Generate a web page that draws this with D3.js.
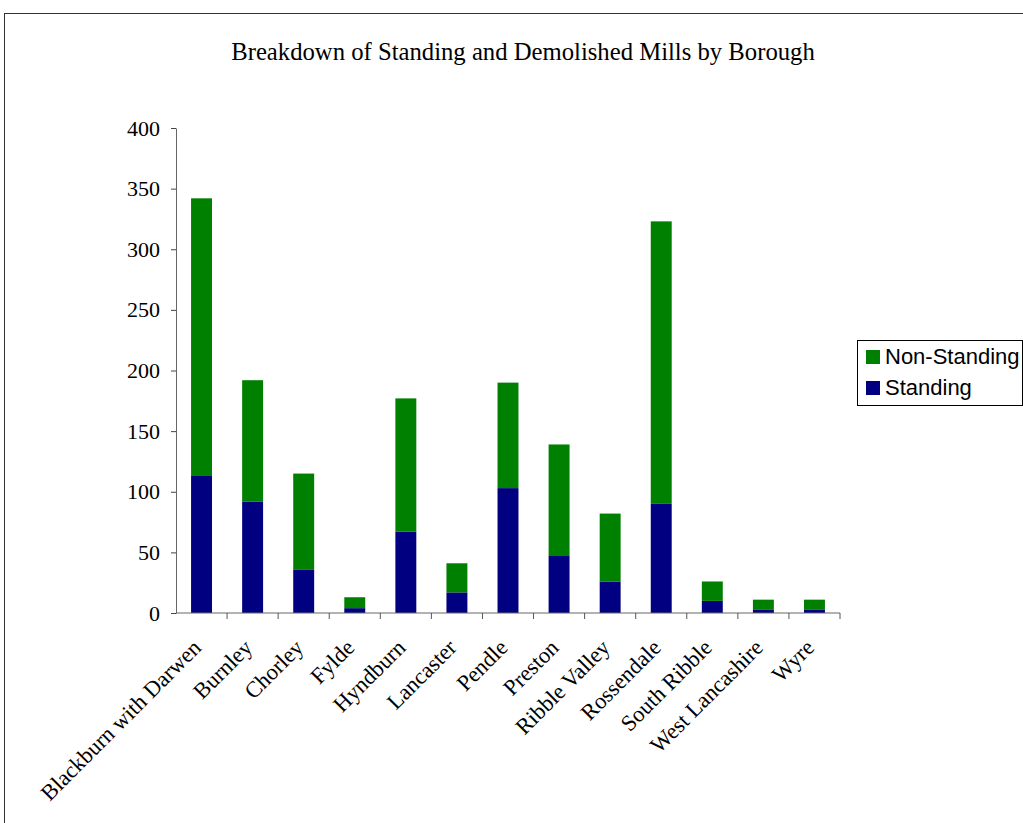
<!DOCTYPE html>
<html>
<head>
<meta charset="utf-8">
<script src="https://cdn.jsdelivr.net/npm/d3@7"></script>
<style>
  html, body { margin: 0; padding: 0; background: #fff; }
  svg { display: block; }
</style>
</head>
<body>
<svg id="chart" width="1023" height="823"></svg>
<script>
// Mill counts per Lancashire borough
const boroughs = ["Blackburn with Darwen", "Burnley", "Chorley", "Fylde", "Hyndburn", "Lancaster",
  "Pendle", "Preston", "Ribble Valley", "Rossendale", "South Ribble", "West Lancashire", "Wyre"];
const standing    = [113, 92, 36, 4, 67, 17, 103, 47, 26, 90, 10, 3, 3];
const nonStanding = [229, 100, 79, 9, 110, 24, 87, 92, 56, 233, 16, 8, 8];
const yTicks = [0, 50, 100, 150, 200, 250, 300, 350, 400];
const seriesNames = ["Standing", "Non-Standing"];
const seriesColors = ["#000080", "#008000"];

const svg = d3.select("#chart");
const serif = "'Liberation Serif', 'Times New Roman', serif";
const sans = "'Liberation Sans', Arial, sans-serif";

// Outer chart frame (runs off the right and bottom edges)
svg.append("rect")
  .attr("x", 4.5).attr("y", 13.5)
  .attr("width", 1030).attr("height", 830)
  .attr("fill", "none").attr("stroke", "#333").attr("stroke-width", 1);

svg.append("text")
  .attr("x", 523).attr("y", 60)
  .attr("text-anchor", "middle")
  .attr("font-family", serif).attr("font-size", 24.7)
  .text("Breakdown of Standing and Demolished Mills by Borough");

const plot = { left: 176, right: 840, top: 128, bottom: 613 };

const x = d3.scaleBand().domain(boroughs).range([plot.left, plot.right]).paddingInner(0.59).paddingOuter(0.295);
const xEdge = d3.scaleBand().domain(boroughs).range([plot.left, plot.right]).padding(0);
const y = d3.scaleLinear().domain([0, 400]).range([plot.bottom, plot.top]);

const rows = boroughs.map((b, i) => ({ borough: b, Standing: standing[i], "Non-Standing": nonStanding[i] }));
const stacked = d3.stack().keys(seriesNames)(rows);

svg.append("g").selectAll("g")
  .data(stacked).join("g")
  .attr("fill", (d, i) => seriesColors[i])
  .selectAll("rect")
  .data(d => d).join("rect")
  .attr("x", d => x(d.data.borough))
  .attr("width", x.bandwidth())
  .attr("y", d => y(d[1]))
  .attr("height", d => y(d[0]) - y(d[1]));

// Y axis
const yAxis = svg.append("g")
  .attr("transform", `translate(${plot.left},0)`)
  .call(d3.axisLeft(y).tickValues(yTicks).tickSize(5).tickPadding(11).tickSizeOuter(0));
yAxis.select(".domain").attr("stroke", "#666");
yAxis.selectAll(".tick line").attr("stroke", "#444");
yAxis.selectAll("text").attr("font-family", serif).attr("font-size", 22).attr("fill", "#000");

// X axis with ticks on category boundaries
const xg = svg.append("g").attr("transform", `translate(0,${plot.bottom})`);
xg.append("line")
  .attr("x1", plot.left).attr("x2", plot.right)
  .attr("stroke", "#666");
const edges = boroughs.map(b => xEdge(b)).concat([plot.right]);
xg.selectAll("line.tick").data(edges.slice(1)).join("line")
  .attr("class", "tick")
  .attr("x1", d => d).attr("x2", d => d)
  .attr("y1", 0).attr("y2", 6)
  .attr("stroke", "#555");
xg.selectAll("text").data(boroughs).join("text")
  .attr("transform", d => `translate(${xEdge(d) + xEdge.bandwidth() / 2 + 1},${36}) rotate(-45)`)
  .attr("text-anchor", "end")
  .attr("font-family", serif).attr("font-size", 22.5)
  .text(d => d);

// Legend
const lg = svg.append("g").attr("transform", "translate(857,340)");
lg.append("rect").attr("x", 0.5).attr("y", 0.5).attr("width", 165).attr("height", 65)
  .attr("fill", "#fff").attr("stroke", "#000");
const legendItems = ["Non-Standing", "Standing"];
const legendColors = ["#008000", "#000080"];
legendItems.forEach((name, i) => {
  lg.append("rect").attr("x", 9).attr("y", 10 + i * 31).attr("width", 14).attr("height", 14)
    .attr("fill", legendColors[i]);
  lg.append("text").attr("x", 28).attr("y", 24 + i * 31)
    .attr("font-family", sans).attr("font-size", 22)
    .text(name);
});
</script>
</body>
</html>
